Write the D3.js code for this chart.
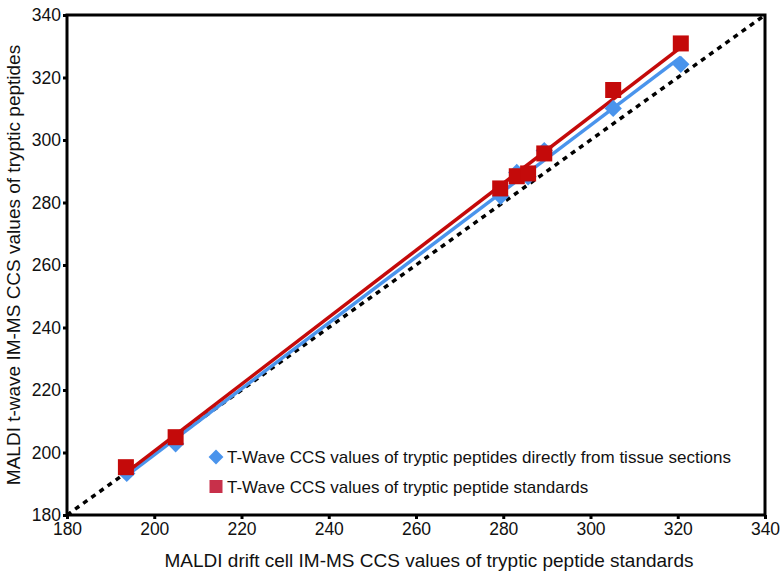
<!DOCTYPE html>
<html lang="en-us">
<head>
<meta charset="utf-8">
<title>T-wave vs drift cell CCS</title>
<script src="https://d3js.org/d3.v7.min.js"></script>
<style>
  body { margin: 0; background: #fff; }
  .chart text { font-family: Arial, "Liberation Sans", sans-serif; fill: #111; }
  .axis path, .axis line { stroke: #000; stroke-width: 3; }
  .axis text { font-size: 17.5px; }
</style>
</head>
<body>
<svg class="chart"></svg>
<script>
var width = 782,
    height = 572;

// drift cell CCS (x) vs t-wave CCS (y)
var tissueX = [193.7, 204.9, 279.4, 283.1, 285.7, 289.4, 305.2, 320.7];
var tissueY = [193.3, 202.8, 282.0, 289.6, 288.2, 296.6, 310.1, 324.2];
var stdX = [193.5, 204.9, 279.3, 283.1, 285.7, 289.4, 305.2, 320.7];
var stdY = [195.3, 204.9, 284.5, 288.4, 289.3, 295.7, 316.0, 330.9];

var ticks = [180, 200, 220, 240, 260, 280, 300, 320, 340];
var legendLabels = [
  "T-Wave CCS values of tryptic peptides directly from tissue sections",
  "T-Wave CCS values of tryptic peptide standards"
];

var blue = "#4a94ec",
    red = "#c40a0a";

var margin = {top: 15, right: 17, bottom: 57, left: 67};

var svg = d3.select(".chart")
    .attr("width", width)
    .attr("height", height);

var x = d3.scaleLinear().domain([180, 340]).range([margin.left, width - margin.right]);
var y = d3.scaleLinear().domain([180, 340]).range([height - margin.bottom, margin.top]);

// least squares fit
function fit(xs, ys) {
  var mx = d3.mean(xs), my = d3.mean(ys);
  var num = d3.sum(xs, function(d, i) { return (d - mx) * (ys[i] - my); });
  var den = d3.sum(xs, function(d) { return (d - mx) * (d - mx); });
  var b = num / den;
  return function(v) { return my + b * (v - mx); };
}

// y = x reference
svg.append("line")
    .attr("x1", x(180)).attr("y1", y(180))
    .attr("x2", x(340)).attr("y2", y(340))
    .attr("stroke", "#000")
    .attr("stroke-width", 3.5)
    .attr("stroke-dasharray", "5,5");

function drawSeries(xs, ys, color) {
  var f = fit(xs, ys);
  var x0 = d3.min(xs), x1 = d3.max(xs);
  svg.append("line")
      .attr("x1", x(x0)).attr("y1", y(f(x0)))
      .attr("x2", x(x1)).attr("y2", y(f(x1)))
      .attr("stroke", color)
      .attr("stroke-width", 3.5);
}

drawSeries(tissueX, tissueY, blue);
drawSeries(stdX, stdY, red);

var diamond = d3.symbol().type(d3.symbolSquare).size(150);

svg.selectAll(".tissue")
    .data(tissueX)
  .enter().append("path")
    .attr("class", "tissue")
    .attr("d", diamond)
    .attr("transform", function(d, i) { return "translate(" + x(d) + "," + y(tissueY[i]) + ") rotate(45)"; })
    .attr("fill", blue);

svg.selectAll(".std")
    .data(stdX)
  .enter().append("rect")
    .attr("class", "std")
    .attr("x", function(d) { return x(d) - 8; })
    .attr("y", function(d, i) { return y(stdY[i]) - 8; })
    .attr("width", 16)
    .attr("height", 16)
    .attr("fill", red);

// frame
svg.append("rect")
    .attr("x", x(180)).attr("y", y(340))
    .attr("width", x(340) - x(180))
    .attr("height", y(180) - y(340))
    .attr("fill", "none")
    .attr("stroke", "#000")
    .attr("stroke-width", 3);

svg.append("g")
    .attr("class", "axis")
    .attr("transform", "translate(0," + y(180) + ")")
    .call(d3.axisBottom(x).tickValues(ticks).tickSize(4).tickPadding(4))
    .call(function(g) { g.select(".domain").remove(); });

svg.append("g")
    .attr("class", "axis")
    .attr("transform", "translate(" + x(180) + ",0)")
    .call(d3.axisLeft(y).tickValues(ticks).tickSize(4).tickPadding(2))
    .call(function(g) { g.select(".domain").remove(); });

svg.append("text")
    .attr("x", (x(180) + x(340)) / 2 + 13)
    .attr("y", 567)
    .attr("text-anchor", "middle")
    .style("font-size", "19px")
    .text("MALDI drift cell IM-MS CCS values of tryptic peptide standards");

svg.append("text")
    .attr("transform", "translate(20," + (y(180) + y(340)) / 2 + ") rotate(-90)")
    .attr("text-anchor", "middle")
    .style("font-size", "19px")
    .text("MALDI t-wave IM-MS CCS values of tryptic peptides");

// legend
var legend = svg.append("g").attr("transform", "translate(216,457)");

legend.append("path")
    .attr("d", d3.symbol().type(d3.symbolSquare).size(110))
    .attr("transform", "rotate(45)")
    .attr("fill", blue);

legend.append("rect")
    .attr("x", -6.5).attr("y", 23)
    .attr("width", 13).attr("height", 13)
    .attr("fill", "#c8304a");

legend.selectAll(".lg")
    .data(legendLabels)
  .enter().append("text")
    .attr("x", 11)
    .attr("y", function(d, i) { return i * 30 + 6; })
    .style("font-size", "17px")
    .text(function(d) { return d; });
</script>
</body>
</html>
